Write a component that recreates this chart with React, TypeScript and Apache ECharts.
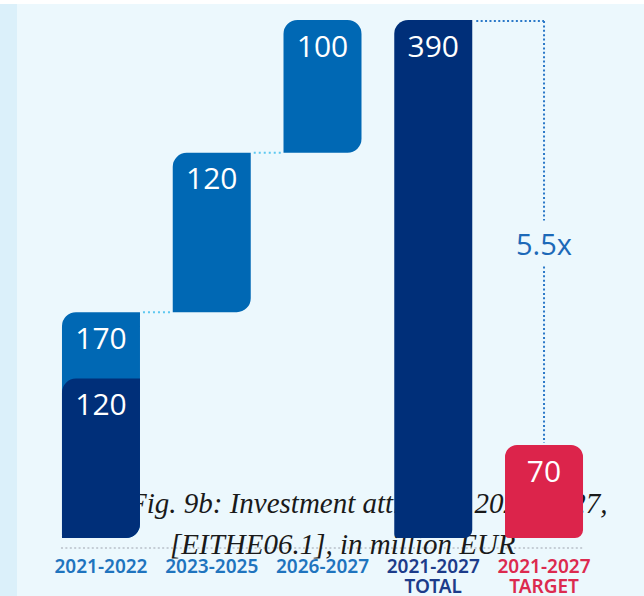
import React, { useEffect, useRef } from "react";
import * as echarts from "echarts";

// ---- data ----
const categories = ["2021-2022", "2023-2025", "2026-2027", "2021-2027\nTOTAL", "2021-2027\nTARGET"];
const baseValues = [0, 170, 290, 0, 0];
const stepValues = [170, 120, 100, 390, 70];
const overlayValues = [120, null, null, null, null];
const yMax = 390;
const multiplierLabel = "5.5x";
const captionLines = ["Fig. 9b: Investment attracted 2021-2027,", "[EITHE06.1], in million EUR"];

export default function App() {
  const ref = useRef<HTMLDivElement>(null);

  useEffect(() => {
    document.body.style.margin = "0";
    if (!ref.current) return;
    const chart = echarts.init(ref.current, undefined, { renderer: "svg" });

    const LIGHT = "#0068b4";
    const NAVY = "#002f79";
    const RED = "#dc244b";
    const barColors = [LIGHT, LIGHT, LIGHT, NAVY, RED];
    const labelColors = ["#1f74be", "#1f74be", "#1f74be", "#1d3c8a", "#dc2a4f"];
    const radii = [
      [14, 0, 14, 0],
      [14, 0, 14, 0],
      [14, 14, 14, 0],
      [14, 0, 8, 4],
      [12, 12, 8, 4],
    ];
    const BW = 78;
    const valueLabel = {
      show: true,
      position: "insideTop",
      distance: 10,
      color: "#ffffff",
      fontSize: 30,
      fontFamily: "Open Sans",
      fontWeight: 400,
    };

    chart.setOption({
      animation: false,
      backgroundColor: "#ecf8fd",
      grid: { left: 45.6, right: 44.6, top: 20, bottom: 53, containLabel: false },
      xAxis: {
        type: "category",
        data: categories.map((c, i) => ({ value: c, textStyle: { color: labelColors[i] } })),
        axisLine: { show: false },
        axisTick: { show: false },
        splitLine: { show: false },
        axisLabel: {
          interval: 0,
          margin: 18,
          fontSize: 19,
          fontWeight: 600,
          fontFamily: "Noto Sans",
          lineHeight: 20,
        },
      },
      yAxis: { type: "value", min: 0, max: yMax, show: false, splitLine: { show: false } },
      series: [
        {
          type: "bar",
          stack: "w",
          data: baseValues,
          barWidth: BW,
          barGap: "-100%",
          itemStyle: { color: "transparent" },
          silent: true,
          z: 2,
        },
        {
          type: "bar",
          stack: "w",
          data: stepValues.map((v, i) => ({
            value: v,
            itemStyle: { color: barColors[i], borderRadius: radii[i] },
          })),
          barWidth: BW,
          barGap: "-100%",
          label: valueLabel,
          z: 2,
        },
        {
          type: "bar",
          data: overlayValues.map((v) =>
            v == null ? "-" : { value: v, itemStyle: { color: NAVY, borderRadius: [14, 0, 14, 0] } }
          ),
          barWidth: BW,
          barGap: "-100%",
          label: valueLabel,
          z: 3,
        },
      ],
    });

    const px = (i: number, v: number) =>
      chart.convertToPixel({ gridIndex: 0 }, [i, v]) as number[];
    const half = BW / 2;

    const cyanDots = { stroke: "#5cc8f0", lineWidth: 2, lineDash: [2, 3] };
    const blueDots = { stroke: "#2a78c8", lineWidth: 2, lineDash: [2, 2.4] };

    const c1a = px(0, stepValues[0]);
    const c1b = px(1, stepValues[0]);
    const c2a = px(1, baseValues[1] + stepValues[1]);
    const c2b = px(2, baseValues[1] + stepValues[1]);
    const tTop = px(3, stepValues[3]);
    const tTarget = px(4, stepValues[4]);
    const tTargetTop = px(4, stepValues[3]);
    const base0 = px(0, 0);
    const base4 = px(4, 0);
    const gapCenter = (tTargetTop[1] + tTarget[1]) / 2 + 11;
    const gapHalf = 23;

    chart.setOption({
      graphic: [
        { type: "rect", z: 0, shape: { x: 0, y: 0, width: 17, height: 596 }, style: { fill: "#dbf0fa" } },
        { type: "rect", z: 0, shape: { x: 0, y: 0, width: 644, height: 4 }, style: { fill: "#ffffff" } },
        {
          type: "line", z: 1,
          shape: { x1: base0[0] - half - 1, y1: base0[1] + 10, x2: base4[0] + half, y2: base4[1] + 10 },
          style: { stroke: "#c5ced6", lineWidth: 2, lineDash: [2, 2.4] },
        },
        {
          type: "line", z: 1,
          shape: { x1: c1a[0] + half + 3, y1: c1a[1], x2: c1b[0] - half - 2, y2: c1b[1] },
          style: cyanDots,
        },
        {
          type: "line", z: 1,
          shape: { x1: c2a[0] + half + 3, y1: c2a[1], x2: c2b[0] - half - 2, y2: c2b[1] },
          style: cyanDots,
        },
        {
          type: "line", z: 1,
          shape: { x1: tTop[0] + half + 4, y1: tTop[1] + 1, x2: tTargetTop[0], y2: tTargetTop[1] + 1 },
          style: blueDots,
        },
        {
          type: "line", z: 1,
          shape: { x1: tTargetTop[0], y1: tTargetTop[1] + 1, x2: tTargetTop[0], y2: gapCenter - gapHalf },
          style: blueDots,
        },
        {
          type: "line", z: 1,
          shape: { x1: tTarget[0], y1: gapCenter + gapHalf, x2: tTarget[0], y2: tTarget[1] - 2 },
          style: blueDots,
        },
        {
          type: "text", z: 1,
          x: tTarget[0], y: gapCenter,
          style: {
            text: multiplierLabel,
            fill: "#1c69b8",
            font: "400 29px 'Open Sans'",
            align: "center",
            verticalAlign: "middle",
          },
        },
        {
          type: "text", z: 1,
          x: 129, y: 503,
          style: {
            text: captionLines[0],
            fill: "#1a1a1a",
            font: "italic 29px 'Liberation Serif'",
            align: "left",
            verticalAlign: "middle",
          },
        },
        {
          type: "text", z: 1,
          x: 170, y: 544,
          style: {
            text: captionLines[1],
            fill: "#1a1a1a",
            font: "italic 29px 'Liberation Serif'",
            align: "left",
            verticalAlign: "middle",
          },
        },
      ],
    });

    return () => chart.dispose();
  }, []);

  return <div ref={ref} style={{ width: 644, height: 596 }} />;
}
